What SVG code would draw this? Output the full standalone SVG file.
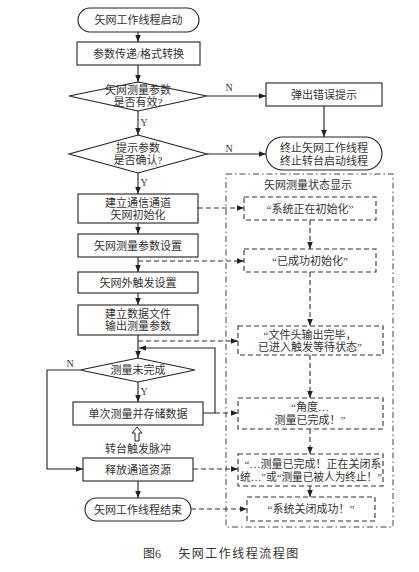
<svg xmlns="http://www.w3.org/2000/svg" width="419" height="572" viewBox="0 0 419 572">
<defs>
<marker id="ah" viewBox="0 0 10 10" refX="10" refY="5" markerWidth="7" markerHeight="7" markerUnits="userSpaceOnUse" orient="auto">
<path d="M0,1 L10,5 L0,9 Z" fill="#222"/>
</marker>
</defs>
<style>
.n{fill:#fff;stroke:#222;stroke-width:1.1}
.d{fill:none;stroke:#333;stroke-width:1.1;stroke-dasharray:5,3}
.dd{fill:none;stroke:#444;stroke-width:1;stroke-dasharray:6,3,1.5,3}
.c{fill:none;stroke:#222;stroke-width:1.1}
.cd{fill:none;stroke:#333;stroke-width:1.1;stroke-dasharray:5,3}
text{font-family:"Liberation Serif","Noto Sans CJK SC",serif;font-size:11px;fill:#333;text-anchor:middle;dominant-baseline:central}
.l{font-size:10px}
</style>
<rect width="419" height="572" fill="#fff"/>
<g id="connectors">
<path class="c" d="M138,32 V42" marker-end="url(#ah)"/>
<path class="c" d="M138,65 V82" marker-end="url(#ah)"/>
<path class="c" d="M138,111 V135" marker-end="url(#ah)"/>
<path class="c" d="M138,173 V194" marker-end="url(#ah)"/>
<path class="c" d="M138,223 V234" marker-end="url(#ah)"/>
<path class="c" d="M138,257 V272" marker-end="url(#ah)"/>
<path class="c" d="M138,293 V305" marker-end="url(#ah)"/>
<path class="c" d="M138,335 V358" marker-end="url(#ah)"/>
<path class="c" d="M138,382 V402" marker-end="url(#ah)"/>
<path class="c" d="M138,481 V498" marker-end="url(#ah)"/>
<path class="c" d="M207,96 H266" marker-end="url(#ah)"/>
<path class="c" d="M207,154 H266" marker-end="url(#ah)"/>
<path class="c" d="M324,106 V137" marker-end="url(#ah)"/>
<path class="c" d="M80,370 H47 V469 H83" marker-end="url(#ah)"/>
<path class="c" d="M203,413 H215 V348 H139" marker-end="url(#ah)"/>
<path class="cd" d="M198,208 H244" marker-end="url(#ah)"/>
<path class="cd" d="M138,261 H244" marker-end="url(#ah)"/>
<path class="cd" d="M138,341 H238" marker-end="url(#ah)"/>
<path class="cd" d="M215,413 H238" marker-end="url(#ah)"/>
<path class="cd" d="M193,469 H238" marker-end="url(#ah)"/>
<path class="cd" d="M191,509 H247" marker-end="url(#ah)"/>
<path class="cd" d="M310,220 V249" marker-end="url(#ah)"/>
<path class="cd" d="M310,272 V326" marker-end="url(#ah)"/>
<path class="cd" d="M310,355 V398" marker-end="url(#ah)"/>
<path class="cd" d="M310,429 V454" marker-end="url(#ah)"/>
<path class="cd" d="M310,486 V497" marker-end="url(#ah)"/>
<path d="M137,427 L132,433 L135,433 L135,441 L139,441 L139,433 L142,433 Z" fill="#fff" stroke="#222" stroke-width="1"/>
<text class="l" x="144" y="122">Y</text>
<text class="l" x="144" y="182">Y</text>
<text class="l" x="144" y="391">Y</text>
<text class="l" x="229" y="87">N</text>
<text class="l" x="229" y="148">N</text>
<text class="l" x="70" y="363">N</text>
<text x="138" y="449">转台触发脉冲</text>
</g>
<g id="start"><rect class="n" x="78" y="8" width="121" height="24" rx="12"/><text x="138.5" y="20">矢网工作线程启动</text></g>
<g id="convert"><rect class="n" x="77" y="42" width="123" height="23"/><text x="138.5" y="53.5">参数传递/格式转换</text></g>
<g id="valid"><polygon class="n" points="138,82 207,96 138,111 69,96"/><text x="138" y="90">矢网测量参数</text><text x="138" y="102">是否有效?</text></g>
<g id="confirm"><polygon class="n" points="138,135 207,154 138,173 69,154"/><text x="138" y="148">提示参数</text><text x="138" y="160">是否确认?</text></g>
<g id="init"><rect class="n" x="78" y="194" width="120" height="29"/><text x="138" y="203">建立通信通道</text><text x="138" y="215">矢网初始化</text></g>
<g id="params"><rect class="n" x="78" y="234" width="120" height="23"/><text x="138" y="245.5">矢网测量参数设置</text></g>
<g id="trigger"><rect class="n" x="78" y="272" width="120" height="21"/><text x="138" y="282.5">矢网外触发设置</text></g>
<g id="file"><rect class="n" x="78" y="305" width="120" height="30"/><text x="138" y="314">建立数据文件</text><text x="138" y="326">输出测量参数</text></g>
<g id="notdone"><polygon class="n" points="138,358 195,370 138,382 80,370"/><text x="138" y="370">测量未完成</text></g>
<g id="measure"><rect class="n" x="73" y="402" width="130" height="23"/><text x="138" y="413.5">单次测量并存储数据</text></g>
<g id="release"><rect class="n" x="83" y="458" width="110" height="23"/><text x="138" y="469.5">释放通道资源</text></g>
<g id="end"><rect class="n" x="85" y="498" width="106" height="23" rx="11.5"/><text x="138" y="509.5">矢网工作线程结束</text></g>
<g id="error"><rect class="n" x="266" y="83" width="116" height="23"/><text x="324" y="95">弹出错误提示</text></g>
<g id="terminate"><rect class="n" x="266" y="137" width="116" height="33" rx="16.5"/><text x="324" y="148">终止矢网工作线程</text><text x="324" y="161">终止转台启动线程</text></g>
<g id="status">
<rect class="dd" x="226" y="174" width="167" height="353"/>
<text x="308" y="185">矢网测量状态显示</text>
</g>
<g id="s1"><rect class="d" x="244" y="197" width="132" height="23"/><text x="310" y="208.5">“系统正在初始化”</text></g>
<g id="s2"><rect class="d" x="244" y="249" width="132" height="23"/><text x="310" y="260.5">“已成功初始化”</text></g>
<g id="s3"><rect class="d" x="238" y="326" width="145" height="29"/><text x="310" y="335">“文件头输出完毕，</text><text x="310" y="347">已进入触发等待状态”</text></g>
<g id="s4"><rect class="d" x="238" y="398" width="145" height="31"/><text x="310" y="407">“角度…</text><text x="310" y="420">测量已完成！”</text></g>
<g id="s5"><rect class="d" x="238" y="454" width="145" height="32"/><text x="313" y="464">“…测量已完成！正在关闭系</text><text x="311" y="477" textLength="142" lengthAdjust="spacingAndGlyphs">统…”或“测量已被人为终止！”</text></g>
<g id="s6"><rect class="d" x="247" y="497" width="128" height="24"/><text x="311" y="509">“系统关闭成功！”</text></g>
<g id="caption">
<text x="152" y="554" style="font-size:12px">图6</text>
<text x="239" y="554" style="font-size:12px;letter-spacing:1.5px">矢网工作线程流程图</text>
</g>
</svg>
